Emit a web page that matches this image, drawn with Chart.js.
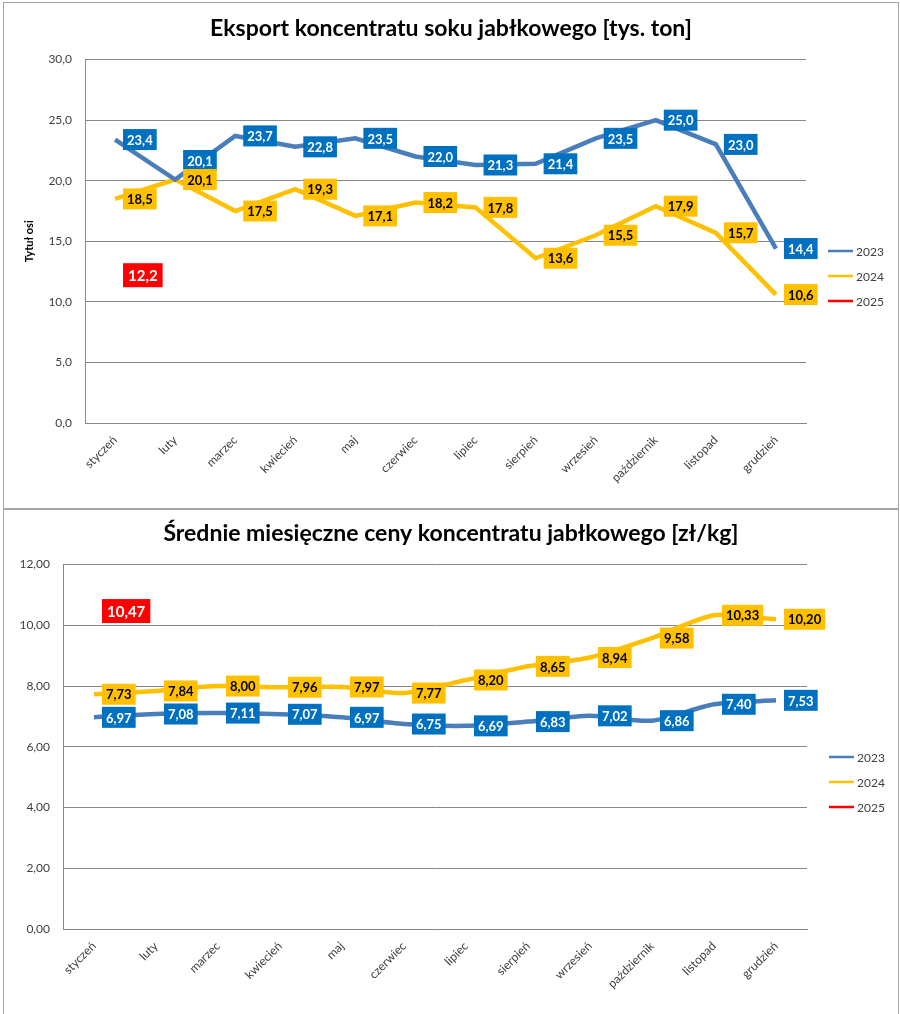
<!DOCTYPE html>
<html>
<head>
<meta charset="utf-8">
<script src="https://cdn.jsdelivr.net/npm/chart.js@4.4.1/dist/chart.umd.min.js"></script>
<style>
  body { margin: 0; background: #fff; }
  .frame { position: absolute; left: 3px; width: 894px; height: 505px; border: 1px solid #a6a6a6; background: #fff; overflow: hidden; }
  #f1 { top: 2px; }
  #f2 { top: 509px; }
  canvas { display: block; }
</style>
</head>
<body>
<div class="frame" id="f1"><canvas id="export" width="894" height="505"></canvas></div>
<div class="frame" id="f2"><canvas id="prices" width="894" height="505"></canvas></div>
<script>
const months = ['styczeń', 'luty', 'marzec', 'kwiecień', 'maj', 'czerwiec', 'lipiec', 'sierpień', 'wrzesień', 'październik', 'listopad', 'grudzień'];
const years = ['2023', '2024', '2025'];

// eksport [tys. ton]
const export2023 = [23.4, 20.1, 23.7, 22.8, 23.5, 22.0, 21.3, 21.4, 23.5, 25.0, 23.0, 14.4];
const export2024 = [18.5, 20.1, 17.5, 19.3, 17.1, 18.2, 17.8, 13.6, 15.5, 17.9, 15.7, 10.6];
const export2025 = [12.2, null, null, null, null, null, null, null, null, null, null, null];
const exportTicks = [0, 5, 10, 15, 20, 25, 30];

// ceny [zł/kg]
const price2023 = [6.97, 7.08, 7.11, 7.07, 6.97, 6.75, 6.69, 6.83, 7.02, 6.86, 7.40, 7.53];
const price2024 = [7.73, 7.84, 8.00, 7.96, 7.97, 7.77, 8.20, 8.65, 8.94, 9.58, 10.33, 10.20];
const price2025 = [10.47, null, null, null, null, null, null, null, null, null, null, null];
const priceTicks = [0, 2, 4, 6, 8, 10, 12];

const FONT = 'Lato';
const lineColors = ['#4a7ebb', '#ffc000', '#ff0000'];
const boxStyles = [
  { bg: '#0070c0', color: '#ffffff', size: 13, h: 21, padX: 4 },
  { bg: '#ffc000', color: '#000000', size: 13, h: 21, padX: 4 },
  { bg: '#ff0000', color: '#ffffff', size: 15, h: 24, padX: 5 }
];

function fmt(v, dec) { return v.toFixed(dec).replace('.', ','); }

// etykiety danych w kolorowych prostokatach, po prawej stronie punktu
const boxLabels = {
  id: 'boxLabels',
  afterDatasetsDraw(chart, args, opts) {
    const ctx = chart.ctx;
    chart.data.datasets.forEach((ds, i) => {
      const meta = chart.getDatasetMeta(i);
      const st = boxStyles[i];
      ctx.save();
      ctx.font = 'bold ' + st.size + 'px ' + FONT;
      ctx.textBaseline = 'middle';
      ctx.textAlign = 'left';
      meta.data.forEach((pt, j) => {
        const v = ds.data[j];
        if (v === null) return;
        const txt = fmt(v, opts.decimals);
        const w = ctx.measureText(txt).width + st.padX * 2;
        const shift = (ds.labelShift && ds.labelShift[j]) || 0;
        const x = pt.x + 8;
        const y = pt.y + shift - st.h / 2;
        ctx.fillStyle = st.bg;
        ctx.fillRect(x, y, w, st.h);
        ctx.fillStyle = st.color;
        ctx.fillText(txt, x + st.padX, y + st.h / 2 + 1);
      });
      ctx.restore();
    });
  }
};

// legenda z prawej, jak w Excelu
const sideLegend = {
  id: 'sideLegend',
  afterDraw(chart, args, opts) {
    const ctx = chart.ctx;
    const x = chart.chartArea.right + opts.dx;
    ctx.save();
    ctx.font = '12px ' + FONT;
    ctx.textBaseline = 'middle';
    chart.data.datasets.forEach((ds, i) => {
      const y = opts.top + i * opts.gap;
      ctx.strokeStyle = ds.borderColor;
      ctx.lineWidth = 2.5;
      ctx.beginPath();
      ctx.moveTo(x, y);
      ctx.lineTo(x + 25, y);
      ctx.stroke();
      ctx.fillStyle = '#404040';
      ctx.fillText(ds.label, x + 28, y + 1);
    });
    ctx.restore();
  }
};

function makeChart(id, cfg) {
  const datasets = cfg.series.map((data, i) => ({
    label: years[i],
    data: data,
    borderColor: lineColors[i],
    backgroundColor: lineColors[i],
    borderWidth: 4.5,
    pointRadius: 0,
    pointHoverRadius: 0,
    tension: cfg.tension,
    labelShift: cfg.shifts[i]
  }));
  return new Chart(document.getElementById(id), {
    type: 'line',
    data: { labels: months, datasets: datasets },
    plugins: [boxLabels, sideLegend],
    options: {
      responsive: false,
      animation: false,
      layout: { padding: 0 },
      plugins: {
        legend: { display: false },
        tooltip: { enabled: false },
        title: {
          display: true,
          text: cfg.title,
          color: '#000',
          font: { family: FONT, size: cfg.titleSize, weight: 'bold' },
          padding: cfg.titlePad
        },
        boxLabels: { decimals: cfg.decimals },
        sideLegend: { dx: 22, top: cfg.legendTop, gap: 25 }
      },
      scales: {
        x: {
          offset: true,
          grid: { display: false, drawTicks: false },
          border: { color: '#868686', width: 1 },
          ticks: {
            color: '#404040',
            font: { family: FONT, size: 12 },
            maxRotation: 45,
            minRotation: 45,
            autoSkip: false,
            padding: 10
          },
          afterFit(scale) { scale.height = cfg.xHeight; }
        },
        y: {
          min: cfg.ticks[0],
          max: cfg.ticks[cfg.ticks.length - 1],
          afterBuildTicks(scale) { scale.ticks = cfg.ticks.map(v => ({ value: v })); },
          grid: { color: '#868686', lineWidth: 1, drawTicks: false },
          border: { color: '#868686', width: 1 },
          ticks: {
            color: '#404040',
            font: { family: FONT, size: 12 },
            padding: 13,
            callback: v => fmt(v, cfg.decimals)
          },
          title: {
            display: cfg.yTitle !== '',
            text: cfg.yTitle,
            color: '#000',
            font: { family: FONT, size: 11, weight: 'bold' },
            padding: { top: 19, bottom: 0 }
          },
          afterFit(scale) { scale.width = cfg.yWidth; }
        },
        // puste miejsce na legendę po prawej
        legendSpace: {
          type: 'linear',
          position: 'right',
          grid: { display: false, drawTicks: false },
          border: { display: false },
          ticks: { display: false },
          afterFit(scale) { scale.width = cfg.rightSpace; }
        }
      }
    }
  });
}

makeChart('export', {
  title: 'Eksport koncentratu soku jabłkowego [tys. ton]',
  titleSize: 23,
  titlePad: { top: 12, bottom: 17 },
  series: [export2023, export2024, export2025],
  shifts: [{ 1: -19 }, {}, {}],
  ticks: exportTicks,
  decimals: 1,
  tension: 0,
  yTitle: 'Tytuł osi',
  yWidth: 81,
  xHeight: 85,
  rightSpace: 92,
  legendTop: 248
});

makeChart('prices', {
  title: 'Średnie miesięczne ceny koncentratu jabłkowego [zł/kg]',
  titleSize: 23,
  titlePad: { top: 10, bottom: 17 },
  series: [price2023, price2024, price2025],
  shifts: [{}, {}, {}],
  ticks: priceTicks,
  decimals: 2,
  tension: 0.25,
  yTitle: '',
  yWidth: 59,
  xHeight: 86,
  rightSpace: 91,
  legendTop: 247
});
</script>
</body>
</html>
